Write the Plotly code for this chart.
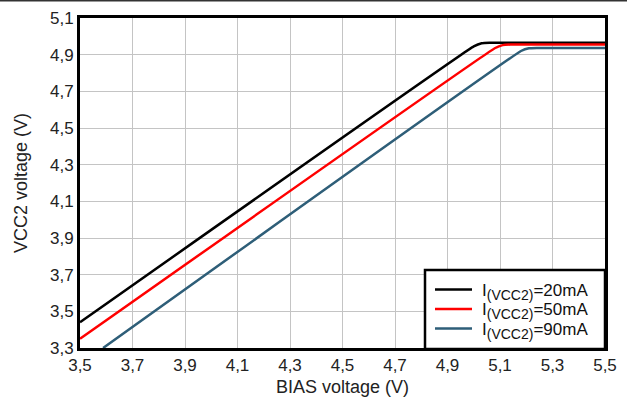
import plotly.graph_objects as go

# BIAS voltage (V) and resulting VCC2 voltage (V) for each load current
bias_20 = [3.50, 5.00, 5.03, 5.06, 5.50]
vcc2_20 = [3.44, 4.945, 4.962, 4.965, 4.965]

bias_50 = [3.50, 5.08, 5.11, 5.14, 5.50]
vcc2_50 = [3.35, 4.935, 4.952, 4.955, 4.955]

bias_90 = [3.588, 5.18, 5.21, 5.24, 5.50]
vcc2_90 = [3.30, 4.920, 4.935, 4.937, 4.937]

currents = ["20mA", "50mA", "90mA"]
colors = ["#000000", "#ff0000", "#2e5e78"]

x_ticks = [3.5, 3.7, 3.9, 4.1, 4.3, 4.5, 4.7, 4.9, 5.1, 5.3, 5.5]
y_ticks = [3.3, 3.5, 3.7, 3.9, 4.1, 4.3, 4.5, 4.7, 4.9, 5.1]

W, H = 627, 398
ml, mr, mt, mb = 80, 22, 18, 50
pw, ph = W - ml - mr, H - mt - mb


def px_x(p):
    return (p - ml) / pw


def px_y(p):
    return (H - mb - p) / ph


def label(cur):
    return ("I<sub><span style='font-size:14px'>(VCC2)</span></sub>=" + cur)


fig = go.Figure()
for xs, ys, cur, col in zip([bias_20, bias_50, bias_90],
                            [vcc2_20, vcc2_50, vcc2_90], currents, colors):
    fig.add_trace(go.Scatter(x=xs, y=ys, mode="lines", name="I(VCC2)=" + cur,
                             showlegend=False,
                             line=dict(color=col, width=2.5, shape="spline", smoothing=0.3)))

axis_common = dict(showgrid=True, gridcolor="#c4c4c4", gridwidth=1,
                   showline=True, linecolor="black", linewidth=3, mirror=True,
                   ticks="", zeroline=False, tickformat=".1f", automargin=False,
                   tickfont=dict(size=17, color="#222222"))

fig.update_layout(
    width=W, height=H,
    margin=dict(l=ml, r=mr, t=mt, b=mb),
    paper_bgcolor="white", plot_bgcolor="white",
    separators=", ",
    font=dict(family="Liberation Sans, Arial, sans-serif", color="#222222"),
    xaxis=dict(range=[3.5, 5.5], tickvals=x_ticks,
               title=dict(text="BIAS voltage (V)", font=dict(size=18), standoff=6),
               **axis_common),
    yaxis=dict(range=[3.3, 5.1], tickvals=y_ticks,
               title=dict(text="VCC2 voltage (V)", font=dict(size=18), standoff=18),
               **axis_common),
    showlegend=False,
)

# legend box in the lower-right corner of the plot
fig.add_shape(type="rect", xref="paper", yref="paper",
              x0=px_x(425), x1=px_x(605), y0=px_y(349), y1=px_y(270),
              fillcolor="white", line=dict(color="black", width=2.5), layer="above")

row_y = [289.5, 309, 328.5]
for ry, cur, col in zip(row_y, currents, colors):
    fig.add_shape(type="line", xref="paper", yref="paper",
                  x0=px_x(435), x1=px_x(472), y0=px_y(ry), y1=px_y(ry),
                  line=dict(color=col, width=2.5), layer="above")
    fig.add_annotation(xref="paper", yref="paper", x=px_x(480), y=px_y(ry + 2),
                       xanchor="left", yanchor="middle", showarrow=False,
                       text=label(cur), font=dict(size=17, color="#111111"))

# thin rule along the top edge of the page
fig.add_shape(type="line", xref="paper", yref="paper",
              x0=-ml / pw, x1=(W - ml) / pw,
              y0=1 + (mt - 0.5) / ph, y1=1 + (mt - 0.5) / ph,
              line=dict(color="#333333", width=2))

fig.write_html("out.html")
